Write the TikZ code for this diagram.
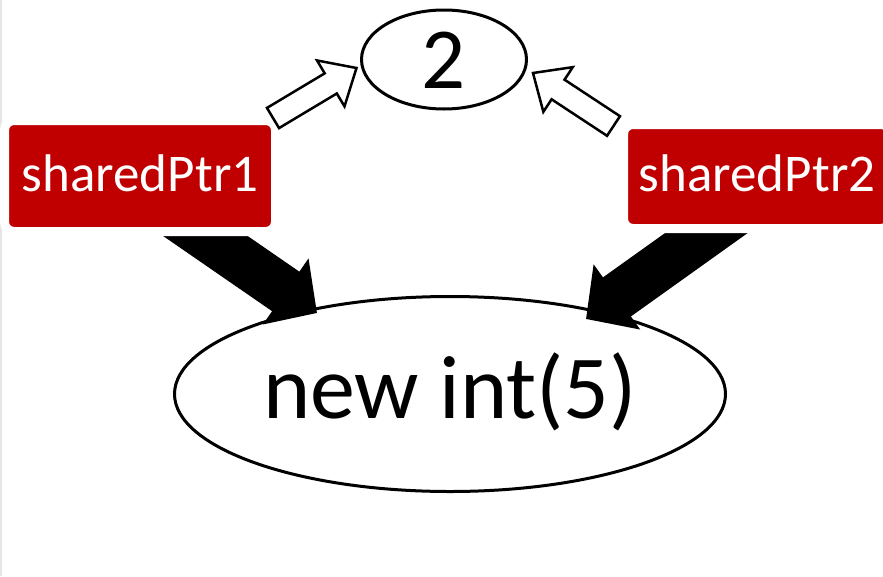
\documentclass[tikz,border=0pt]{standalone}
\usepackage{fontspec}
\setmainfont{Carlito}
\usetikzlibrary{shapes.geometric,arrows.meta,calc}
\definecolor{boxred}{HTML}{C00000}
\definecolor{edgegray}{HTML}{E6E6E6}
\pgfdeclarelayer{bg}
\pgfsetlayers{bg,main}
\tikzset{
  ptrbox/.style={rectangle, fill=boxred, draw=white, line width=9pt, rounded corners=9.5pt,
    outer sep=0pt, inner sep=0pt, text=white, font=\fontsize{53}{60}\selectfont,
    text height=30pt, text depth=0pt},
  valnode/.style={ellipse, draw=black, line width=3pt, inner sep=0pt, outer sep=0pt},
  bigarrow/.style={draw=black, line width=48pt, -{Triangle[length=38pt,width=78pt]}},
  hollowarrow/.style={draw=black, fill=white, line width=2.5pt, line join=miter},
}
\newcommand{\hollowconn}[3]{%
  \coordinate (#3) at ($(#2)!30pt!(#1)$);
  \draw[hollowarrow] ($(#1)!11.75pt!90:(#2)$) -- ($(#3)!11.75pt!-90:(#1)$)
    -- ($(#3)!26.75pt!-90:(#1)$) -- (#2) -- ($(#3)!26.75pt!90:(#1)$)
    -- ($(#3)!11.75pt!90:(#1)$) -- ($(#1)!11.75pt!-90:(#2)$) -- cycle;}
\begin{document}
\begin{tikzpicture}[x=1pt, y=-1pt]
\useasboundingbox (0,0) rectangle (883,576);
\begin{pgfonlayer}{bg}
\fill[white] (0,0) rectangle (883,576);
\fill[edgegray] (0,0) rectangle (2,576);
\end{pgfonlayer}

% nodes
\node[valnode, minimum width=165pt, minimum height=99pt, text height=57pt, text depth=0pt,
  font=\fontsize{87}{95}\selectfont] (cnt) at (444,59.5) {2};
\node[valnode, minimum width=551pt, minimum height=195pt, text height=48pt, text depth=0pt,
  font=\fontsize{90}{100}\selectfont] (big) at (450,394) {new int(5)};
\node[ptrbox, minimum width=271pt, minimum height=111pt] (sp1) at (140,176) {sharedPtr1};
\node[ptrbox, minimum width=267pt, minimum height=104pt] (sp2) at (757,176.5) {sharedPtr2};

% black pointer arrows (behind the boxes)
\begin{pgfonlayer}{bg}
\draw[bigarrow] ([shift={(19,-27.5)}]sp1.south) -- ([shift={(-133,16.5)}]big.north);
\draw[bigarrow] ([shift={(-3,-29.5)}]sp2.south) -- ([shift={(136,22.5)}]big.north);
\end{pgfonlayer}

% hollow arrows to the reference count
\coordinate (h1t) at (273,118);
\coordinate (h1h) at ([shift={(-5,8.5)}]cnt.west);
\coordinate (h2t) at (613.5,126);
\coordinate (h2h) at ([shift={(6.5,13.5)}]cnt.east);
\hollowconn{h1t}{h1h}{h1b}
\hollowconn{h2t}{h2h}{h2b}
\end{tikzpicture}
\end{document}
